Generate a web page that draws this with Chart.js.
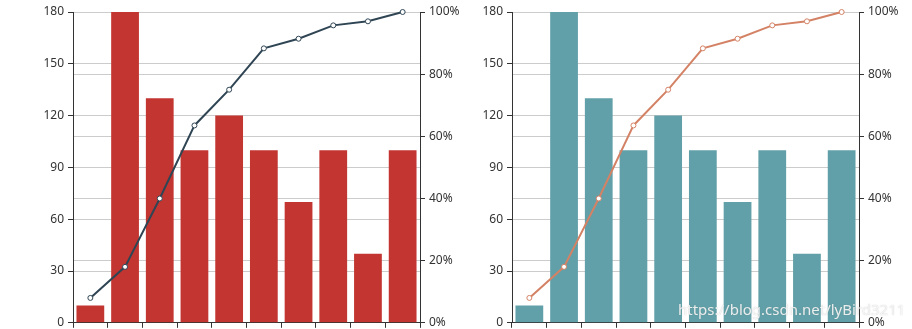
<!DOCTYPE html>
<html>
<head>
<meta charset="utf-8">
<script src="https://cdn.jsdelivr.net/npm/chart.js@4.4.1/dist/chart.umd.min.js"></script>
<style>
  html, body { margin: 0; padding: 0; background: #fff; }
  #wrap { position: relative; width: 912px; height: 329px; overflow: hidden; }
  canvas { position: absolute; top: 0; }
  #c1 { left: 0; }
  #c2 { left: 456px; }
  .mark {
    position: absolute; left: 678px; top: 299px;
    font: 15px "Noto Sans", sans-serif;
    color: rgba(255, 255, 255, 0.85);
    text-shadow: 0 0 1px rgba(120, 120, 120, 0.5);
    white-space: nowrap;
  }
</style>
</head>
<body>
<div id="wrap">
  <canvas id="c1" width="470" height="334"></canvas>
  <canvas id="c2" width="456" height="334"></canvas>
  <div class="mark">https://blog.csdn.net/lyBird3211</div>
</div>
<script>
// --- dados ---
const categories = ['1', '2', '3', '4', '5', '6', '7', '8', '9', '10'];
const barValues = [10, 180, 130, 100, 120, 100, 70, 100, 40, 100];
const percentValues = [8, 18, 40, 63.5, 75, 88.3, 91.4, 95.7, 97, 100];
const leftTicks = [0, 30, 60, 90, 120, 150, 180];
const rightTicks = [0, 20, 40, 60, 80, 100];

Chart.defaults.font.family = '"Microsoft YaHei", "Noto Sans", sans-serif';
Chart.defaults.font.size = 12;
Chart.defaults.color = '#333';

function buildChart(id, barColor, lineColor, leftWidth, rightWidth) {
  const ctx = document.getElementById(id).getContext('2d');
  return new Chart(ctx, {
    data: {
      labels: categories,
      datasets: [
        {
          type: 'line',
          data: percentValues,
          yAxisID: 'y1',
          borderColor: lineColor,
          borderWidth: 2,
          tension: 0,
          clip: false,
          pointRadius: 2.5,
          pointBorderWidth: 1,
          pointBackgroundColor: '#fff',
          pointBorderColor: lineColor,
          order: 0
        },
        {
          type: 'bar',
          data: barValues,
          yAxisID: 'y',
          backgroundColor: barColor,
          borderWidth: 0,
          categoryPercentage: 1,
          barPercentage: 0.8,
          order: 1
        }
      ]
    },
    options: {
      responsive: false,
      animation: false,
      layout: { padding: { top: 12, left: 0, right: 0, bottom: 0 } },
      plugins: { legend: { display: false }, tooltip: { enabled: false } },
      scales: {
        x: {
          offset: true,
          ticks: { display: false },
          grid: {
            offset: true,
            drawOnChartArea: false,
            drawTicks: true,
            tickLength: 5,
            tickColor: '#333'
          },
          border: { color: '#333' },
          afterFit: function (s) { s.height = 7; }
        },
        y: {
          position: 'left',
          min: 0,
          max: 180,
          afterBuildTicks: function (s) { s.ticks = leftTicks.map(v => ({ value: v })); },
          ticks: { padding: 4, color: '#333' },
          grid: { color: '#ccc', tickColor: '#333', tickLength: 5 },
          border: { color: '#333' },
          afterFit: function (s) { s.width = leftWidth; }
        },
        y1: {
          position: 'right',
          min: 0,
          max: 100,
          afterBuildTicks: function (s) { s.ticks = rightTicks.map(v => ({ value: v })); },
          ticks: { padding: 4, color: '#333', callback: v => v + '%' },
          grid: { color: '#ccc', tickColor: '#333', tickLength: 5 },
          border: { color: '#333' },
          afterFit: function (s) { s.width = rightWidth; }
        }
      }
    }
  });
}

buildChart('c1', '#c23531', '#2f4554', 73, 50);
buildChart('c2', '#61a0a8', '#d48265', 56, 53);
</script>
</body>
</html>
